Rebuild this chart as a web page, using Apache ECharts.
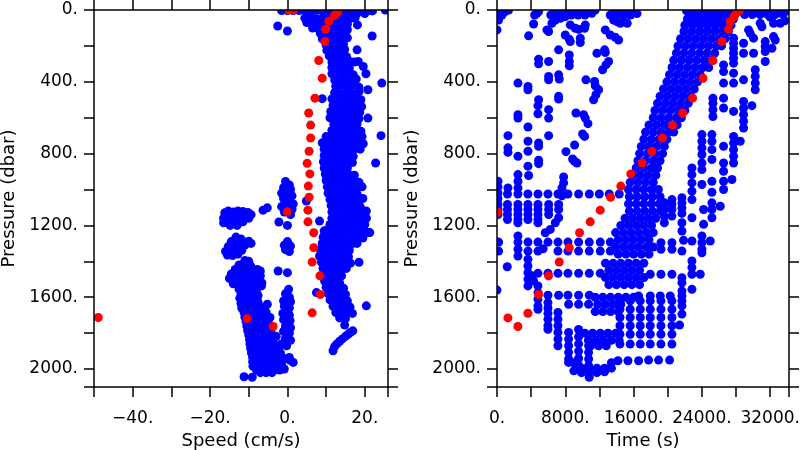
<!DOCTYPE html>
<html>
<head>
<meta charset="utf-8">
<script src="https://cdn.jsdelivr.net/npm/echarts@6/dist/echarts.min.js"></script>
<style>html,body{margin:0;padding:0;background:#fff}#c{width:800px;height:450px}</style>
</head>
<body>
<div id="c"></div>
<script>
// ---------- LEFT PANEL: Speed (cm/s) vs Pressure (dbar) ----------
const speedBand = [
[-1.5,3],[0,3],[1.5,3],[3,3],[4.5,3],[6,3],[7.5,3],[9,3],[10.5,3],[12,3],[13.5,3],[15,3],[16.5,3],[18,3],[19.5,3],[21,3],[22,5],
[9.5,20],[11,22],[14,20],[16,22],[18,18],[20,20],
[4.5,45],[6,40],[7.5,50],[9,45],[10.5,50],[13,45],[14.5,40],[16,50],[17.5,45],
[5,70],[6.5,75],[8,70],[9.5,80],[11,72],[12.5,75],[14,70],[15.5,80],
[6.5,100],[8,105],[11,100],[12.5,105],[14,100],[15.5,110],
[8.5,130],[10,135],[11.5,130],[13,135],[14.5,130],
[9,160],[10.8,165],[12.3,160],[13.8,165],[15.5,155],
[10,195],[11.5,190],[13,195],[14.5,190],
[10.2,225],[11.8,222],[13.3,225],[14.8,220],
[10.8,255],[12.3,260],[13.8,255],[15.3,260],
[11.5,290],[13,287],[14.5,290],[16,285],[17.2,290],
[11.5,320],[13,325],[14.5,320],[16,325],
[11.5,355],[13,350],[14.5,355],[16,350],[17,360],
[12.2,390],[13.7,395],[15.2,390],[16.7,395],[17.8,385],
[12.5,425],[14,420],[15.5,425],[17,420],[18.5,430],
[12.2,460],[13.7,465],[15.2,460],[16.7,465],[18.5,455],
[11.5,495],[13,500],[14.5,495],[16,500],[17.5,495],[19,500],
[11.8,530],[13.3,535],[14.8,530],[16.3,535],[17.8,530],[19.2,538],
[11.2,565],[12.7,570],[14.2,565],[15.7,570],[17.2,565],[18.7,570],
[11,600],[12.5,605],[14,600],[15.5,605],[17,600],[18.5,605],
[12,635],[13.5,640],[15,635],[16.5,640],[18,635],
[11.5,670],[13,675],[14.5,670],[16,675],[17.5,670],[19,675],
[10,705],[11.5,710],[13,705],[14.5,710],[16,705],[17.5,710],[19.3,705],
[9,740],[10.5,745],[12,740],[13.5,745],[15,740],[16.5,745],[18,740],[19.6,745],
[9.5,775],[11,780],[12.5,775],[14,780],[15.5,775],[17,780],[18.8,775],
[9.5,810],[11,815],[12.5,810],[14,815],[15.5,810],[17,815],
[9.3,845],[10.8,850],[12.3,845],[13.8,850],[15.3,845],[16.8,850],
[9.5,880],[11,885],[12.5,880],[14,885],[15.5,880],
[9.8,915],[11.3,920],[12.8,915],[14.3,920],[15.8,915],[17.3,920],
[10,950],[11.5,955],[13,950],[14.5,955],[16,950],[17.5,955],[18.5,960],
[10.3,985],[11.8,990],[13.3,985],[14.8,990],[16.3,985],[17.8,990],[19.3,985],
[10.5,1020],[12,1025],[13.5,1020],[15,1025],[16.5,1020],[18,1025],
[11,1055],[12.5,1060],[14,1055],[15.5,1060],[17,1055],[18.5,1060],[19.5,1050],
[11.3,1090],[12.8,1095],[14.3,1090],[15.8,1095],[17.3,1090],[18.8,1095],
[11.5,1125],[13,1130],[14.5,1125],[16,1130],[17.5,1125],[19,1130],[20.4,1120],
[11.5,1160],[13,1165],[14.5,1160],[16,1165],[17.5,1160],[19,1165],[20.4,1160],
[11,1195],[12.5,1200],[14,1195],[15.5,1200],[17,1195],[18.5,1200],[20,1195],
[9.5,1230],[11,1235],[12.5,1230],[14,1235],[15.5,1230],[17,1235],[18.5,1230],[20,1235],[21.3,1240],
[9.2,1265],[10.7,1270],[12.2,1265],[13.7,1270],[15.2,1265],[16.7,1270],[18.2,1265],[19.5,1270],
[9,1300],[10.5,1305],[12,1300],[13.5,1305],[15,1300],[16.5,1305],[18,1300],
[8.5,1335],[10,1340],[11.5,1335],[13,1340],[14.5,1335],[16,1340],
[8.3,1370],[9.8,1375],[11.3,1370],[12.8,1375],[14.3,1370],[15.8,1375],
[8.8,1405],[10.3,1410],[11.8,1405],[13.3,1410],[14.8,1405],[16.3,1410],[18.5,1405],
[9.2,1440],[10.7,1445],[12.2,1440],[13.7,1445],[15.2,1440],
[9.6,1475],[11.1,1480],[12.6,1475],[14,1480],
[9.6,1510],[11.1,1515],[12.6,1510],[13.5,1520],
[10,1545],[11.5,1550],[13,1545],[14.5,1550],
[10.5,1580],[12,1585],[13.5,1580],[15,1585],
[11,1615],[12.5,1620],[14,1615],[15.5,1620],
[11.8,1650],[13.3,1655],[14.8,1650],[16.2,1655],
[12.5,1685],[14,1690],[15.3,1685],[16.8,1690],
[13.5,1715],[15,1720]
];
const speedNeg = [
[-16.2,1130],[-16.5,1160],[-15.3,1120],[-14,1125],[-12.8,1120],[-11.5,1122],[-10.2,1128],[-9.4,1140],
[-15.4,1145],[-14,1150],[-12.5,1148],[-11,1150],[-10,1160],[-15.8,1175],[-14.5,1180],[-13,1175],
[-11.5,1180],[-14.8,1200],[-13,1200],[-16.5,1185],[-6.3,1115],[-5.2,1102],
[-13.3,1265],[-12,1275],[-14.5,1290],[-13,1295],[-11.5,1290],[-10,1288],[-9.4,1300],[-15.3,1318],
[-14,1320],[-12.5,1315],[-11,1310],[-16,1345],[-14.5,1345],[-13,1340],[-11.8,1338],[-15.5,1365],
[-14.2,1368],[-12.8,1360],
[-11,1395],[-10,1400],[-12.5,1420],[-11,1425],[-9.5,1425],[-13.5,1445],[-12,1450],[-10.5,1450],
[-9,1450],[-7.8,1445],[-14.5,1470],[-13,1475],[-11.5,1475],[-10,1478],[-8.5,1475],[-7,1480],
[-15,1495],[-13.5,1500],[-12,1505],[-10.5,1500],[-9,1505],[-7.5,1500],[-14,1525],[-12.5,1530],
[-11,1528],[-9.5,1532],[-8,1530],[-6.6,1520],[-12.5,1555],[-11,1558],[-9.5,1555],[-8,1560],
[-12,1580],[-10.5,1585],[-9,1582],[-7.6,1590],[-12.3,1605],[-10.8,1610],[-9.3,1605],[-7.8,1612],
[-12,1635],[-10.5,1635],[-9,1635],[-7.5,1635],[-5.2,1639],
[-11.8,1660],[-10.3,1660],[-8.8,1660],[-7.3,1660],[-6,1660],
[-11.2,1685],[-9.7,1685],[-8.2,1685],[-6.7,1685],[-5.5,1685],
[-11,1710],[-9.5,1710],[-8,1710],[-6.5,1710],[-4.5,1713],
[-10.7,1735],[-9.2,1735],[-7.7,1735],[-6.2,1735],[-5,1735],
[-10.5,1760],[-9,1760],[-7.5,1760],[-6,1760],[-4.5,1760],
[-10.3,1785],[-8.8,1785],[-7.3,1785],[-5.8,1785],[-4.3,1785],
[-10,1810],[-8.5,1810],[-7,1810],[-5.5,1810],[-4,1810],[-2.9,1818],
[-9.8,1835],[-8.3,1835],[-6.8,1835],[-5.3,1835],[-3.8,1835],
[-9.7,1860],[-8.2,1860],[-6.7,1860],[-5.2,1860],[-3.5,1860],
[-9.5,1885],[-8,1885],[-6.5,1885],[-5,1885],[-3.5,1885],[-2.3,1885],
[-9.3,1910],[-7.8,1910],[-6.3,1910],[-4.8,1910],[-3.3,1910],[-1.8,1910],
[-9,1935],[-7.5,1935],[-6,1935],[-4.5,1935],[-3,1935],[-1.3,1935],
[-9,1960],[-7.5,1960],[-6,1960],[-4.5,1960],[-3,1960],[-1.5,1960],
[-8.9,1985],[-7.4,1985],[-5.9,1985],[-4.4,1985],[-2.9,1985],[-1.4,1985],
[-8,2005],[-6.5,2005],[-5,2005],[-3.5,2005],[-2,2005],[-0.8,2000],
[-7,2020],[-5.5,2020],[-4,2020],
[-11.2,2043],[-9.1,2046]
];
const speedZero = [
[-0.5,955],[0.5,975],[-1,990],[0.8,1000],[-1.5,1020],[0,1025],[1.2,1035],[-1,1050],[0.5,1055],
[-0.5,1075],[1.5,1080],[-1.5,1095],[0,1100],[1.2,1110],[-0.8,1125],[0.8,1140],[-2.2,1181],[0,1200],
[4.9,1064],[8.3,1176],
[0,1290],[-0.8,1310],[0.8,1315],[-0.5,1335],[0.5,1345],
[-2.4,1454],[0,1463],[-7,1454],[-6.7,1537],
[0.3,1556],[-0.5,1580],[0.5,1600],[-1,1620],[0.8,1625],[-0.8,1650],[0.5,1660],[-1.2,1690],[0.5,1700],
[-1,1725],[0.7,1730],[-0.5,1760],[0.8,1770],[-1,1790],[0.5,1800],[-0.5,1830],[0.8,1840],[-0.2,1870],
[-1.6,1860],[0.5,1935],[0.6,1950],[1.5,1963]
];
const speedStray = [
[-2.5,89],[0,117],[21.9,145],[18.1,83],[18,222],[18.3,287],[19.6,315],[20.3,355],[24.4,407],[20.8,444],
[9,494],[20.8,602],[24.2,700],[22.8,852],[25.3,0],[20.4,1648],[14.8,1755],
[11.8,1898],[12.2,1875],[12.8,1860],[13.5,1845],[14.2,1832],[15,1818],[15.7,1806],[16.3,1796],[16.9,1787],
[7.5,1574],[10.5,1222],[21,1240]
];
const speedRed = [
[0.3,0],[1.5,0],[12.8,0],[13,12],[12.2,30],[10.7,63],[9.9,107],[9.7,176],[8.1,281],[9.0,380],[7.1,491],
[5.5,574],[6.0,641],[6.0,713],[5.6,787],[5.1,854],[5.8,913],[5.4,981],[5.6,1043],[0,1124],[5.3,1115],
[5.3,1180],[6.8,1241],[6.8,1324],[6.4,1404],[8.4,1481],[8.5,1585],[6.4,1687],[-3.7,1763],[-10.4,1719],
[-48.9,1713]
];

// ---------- RIGHT PANEL: Time (s) vs Pressure (dbar) ----------
const timeBand = [
[22200,5],[23100,5],[24000,5],[24900,5],[25800,5],[26700,5],[27600,5],[28500,5],[29400,5],[30300,5],[31200,5],[32100,5],[33000,5],[33900,5],
[22600,25],[23500,25],[24400,25],[25300,25],[26200,25],[27100,25],[29000,25],[29900,25],[30800,25],[31700,25],[32600,25],[33500,25],
[22300,50],[23200,50],[24100,50],[25000,50],[25900,50],[26800,50],[27700,50],
[22000,85],[22900,85],[23800,85],[24700,85],[25600,85],[26500,85],[27400,85],
[21900,120],[22800,120],[23700,120],[24600,120],[25500,120],[26400,120],[27100,120],
[21500,160],[22400,160],[23300,160],[24200,160],[25100,160],[26000,160],[26700,160],
[21200,200],[22100,200],[23000,200],[23900,200],[24800,200],[25700,200],[26300,200],
[21000,240],[21900,240],[22800,240],[23700,240],[24600,240],[25500,240],
[20700,280],[21600,280],[22500,280],[23400,280],[24300,280],[25200,280],
[20500,320],[21400,320],[22300,320],[23200,320],[24100,320],[24800,320],
[20200,360],[21100,360],[22000,360],[22900,360],[23800,360],
[19900,400],[20800,400],[21700,400],[22600,400],[23500,400],
[19500,440],[20400,440],[21300,440],[22200,440],[23100,440],
[19100,480],[20000,480],[20900,480],[21800,480],[22700,480],
[18800,520],[19700,520],[20600,520],[21500,520],[22400,520],
[18500,560],[19400,560],[20300,560],[21200,560],[22000,560],
[18300,600],[19200,600],[20100,600],[21000,600],[21600,600],
[17800,640],[18700,640],[19600,640],[20500,640],[21100,640],
[17400,680],[18300,680],[19200,680],[20100,680],[20700,680],
[17200,720],[18100,720],[19000,720],[19900,720],
[16900,760],[17800,760],[18700,760],[19600,760],
[16700,800],[17600,800],[18500,800],[19400,800],
[16500,840],[17400,840],[18300,840],[19100,840],
[16300,880],[17200,880],[18100,880],[18800,880],
[15900,920],[16800,920],[17700,920],[18600,920],
[15600,960],[16500,960],[17400,960],[18300,960],
[15400,1000],[16300,1000],[17200,1000],[18100,1000],[18900,1000],
[15500,1040],[16400,1040],[17300,1040],[18200,1040],[19100,1040],
[15400,1080],[16300,1080],[17200,1080],[18100,1080],[19000,1080],
[15500,1120],[16400,1120],[17300,1120],[18200,1120],[19100,1120],
[15000,1160],[15900,1160],[16800,1160],[17700,1160],[18600,1160],
[14500,1200],[15400,1200],[16300,1200],[17200,1200],[18100,1200],
[13900,1240],[14800,1240],[15700,1240],[16600,1240],[17500,1240],[18300,1240],
[14200,1280],[15100,1280],[16000,1280],[16900,1280],[17800,1280],
[13900,1320],[14800,1320],[15700,1320],[16600,1320],[17500,1320],[18300,1320],
[14200,1360],[15100,1360],[16000,1360],[16900,1360],[17800,1360],
[12700,1410],[13600,1410],[14500,1410],[15400,1410],[16300,1410],[17200,1410],
[13100,1450],[14000,1450],[14900,1450],[15800,1450],[16700,1450],
[12700,1490],[13600,1490],[14500,1490],[15400,1490],[16300,1490],[17200,1490],
[13100,1530],[14000,1530],[14900,1530],[15800,1530],[16700,1530],
[11500,1600],[12400,1600],[13300,1600],[14200,1600],[15100,1600],[16000,1600],
[11800,1640],[12700,1640],[13600,1640],[14500,1640],
[11500,1680],[12400,1680],[13300,1680],[14200,1680],
[10300,1800],[11200,1800],[12100,1800],[13000,1800],[13900,1800],
[10700,1840],[11600,1840],[12500,1840],[13400,1840],[14300,1840],
[11000,1870],[11900,1870],[12800,1870]
];
const timeUpper = [
[0,111],[113,20],[191,56],[582,28],[972,9],[1362,0],[400,0],
[4407,28],[4680,18],[4875,9],[4290,78],[3704,144],
[6300,28],[6700,9],[7100,28],[7500,9],[7900,28],[8300,9],[8700,28],[9100,9],[9500,28],[9900,9],[10300,28],[10700,9],[11100,18],[11500,0],
[5851,111],[6046,120],[6436,74],[6826,56],[7412,46],[7997,37],
[7997,139],[8466,163],[8583,176],[8583,83],[9168,102],[9559,107],[9754,157],[9754,181],
[10339,83],[10261,102],[7217,222],[8466,250],[8466,287],[8466,311],[6046,287],[4875,274],[4875,300],
[11705,241],[12603,222],[12681,237],[13071,287],[12759,306],[12369,333],
[13266,28],[13657,9],[14050,28],[14450,9],[14850,28],[15250,9],[15650,28],[15998,9],[16400,20],
[13657,56],[14050,65],[14450,74],[14850,65],[15250,74],
[12681,111],[13266,139],[13852,152],[14242,167],
[6046,370],[6046,389],[7217,361],[7295,385],[2455,407],[3626,426],[3626,444],
[10417,389],[11432,398],[11510,422],[11900,444],[11588,472],[11315,500],
[7217,481],[7217,496],[4875,500],[4797,533],[4797,578],[6046,555],[6046,602],
[2455,583],[2455,602],[3626,652],[9246,574],[10144,583],[10339,602],[10651,633],
[1284,700],[3626,731],[3626,787],[4875,741],[4875,759],[6046,700],[10027,691],[10261,704],
[9090,752],[1284,768],[1284,793],[2455,815],[3626,870],[4875,837],[4875,856],[8075,789],
[8856,830],[9090,843],[9363,852],[2455,917],[2455,954],[3704,922],
[7802,930],[7802,963],[7607,991],[113,954],[113,985],[113,1019],[113,1050],[1284,991],[2455,991]
];
const timeLower = [
[1230,1025],[2450,1025],[3620,1025],[4800,1025],[5970,1025],[7140,1025],[7600,1035],[8310,1025],[9560,1025],
[10810,1025],[11980,1025],[13150,1025],[14320,1025],
[113,1083],[113,1111],[113,1139],
[1230,1083],[1230,1111],[1230,1139],[1230,1167],
[2450,1083],[2450,1111],[2450,1139],[2450,1167],[2450,1185],
[3620,1083],[3620,1111],[3620,1139],[3620,1167],
[4800,1083],[4800,1111],[4800,1139],[4800,1167],[4800,1185],
[6050,1083],[6050,1111],[6050,1139],[7220,1083],[7220,1111],
[5656,1241],[6241,1222],[6826,1185],[7217,1157],
[191,1293],[2455,1293],[3626,1293],[4797,1293],[5968,1293],[7139,1293],[8310,1293],[9559,1293],[10807,1293],[12095,1293],[13266,1293],
[191,1343],[3626,1343],[4797,1343],[5400,1330],[7139,1343],[8310,1343],[9559,1343],[10807,1343],[12095,1343],[13266,1343],
[2455,1259],[2455,1333],[2455,1370],[1200,1430],[0,1560],
[3626,1389],[3626,1426],[3626,1463],[3626,1500],[3626,1537],[4090,1481],[4290,1509],
[4797,1467],[5968,1467],[7139,1467],[8310,1467],[9559,1467],[10807,1467],[12095,1467],
[4797,1537],[4797,1574],[4797,1611],[4797,1648],[4797,1667],
[5968,1589],[7217,1589],[8310,1589],[9559,1589],[10807,1589],
[8390,1639],[9560,1639],[10730,1639],
[5968,1630],[5968,1660],[5968,1690],[5968,1722],[5968,1759],[5968,1778],
[7139,1685],[7139,1722],[7139,1759],[7139,1796],[7139,1833],[7139,1870],
[8388,1796],[8388,1833],[8388,1870],[8388,1907],[8388,1944],[8388,1963],
[9559,1780],[9559,1820],[9559,1860],[9559,1900],[9559,1940],[9559,1980],
[10729,1870],[10729,1907],[10729,1944],[10729,1981],[10729,2020],[10800,2046],
[9000,1965],[9900,1995],[10800,1995],[11700,1995],[12600,1995],[13400,1995],
[9000,2010],[9900,2020],[11700,2020],[12600,2015],[13400,1965],
[14164,1954],[15335,1954],[16584,1954],[17756,1950],[18927,1950],[20215,1950]
];
const timeRight = [
[27708,157],[27708,185],[27708,213],[27708,241],[27708,269],[27708,296],
[29465,111],[29660,130],[30050,157],[30831,74],[31026,93],[32392,148],[32587,167],
[28879,185],[28879,241],[30050,241],[31416,176],[31416,204],[31416,231],[31416,287],[32197,213],
[26538,306],[26538,343],[26538,407],[27708,352],[27708,407],[28879,389],
[30245,333],[30245,370],[30245,407],[30245,444],
[25289,491],[25289,520],[25289,555],[25289,593],[26538,491],[26538,546],[27708,565],
[28879,509],[28879,546],[28879,583],[28879,620],[28879,657],[29855,533],
[24000,694],[24000,731],[24000,768],[24000,805],[24000,852],
[25171,694],[25171,731],[25171,778],[25171,833],[26538,759],[26538,852],
[27708,704],[27708,741],[27708,778],[27708,815],[27708,852],[28489,731],
[22830,880],[22830,917],[22830,963],[24000,889],[24000,972],[25171,954],[25171,1015],
[26538,898],[26538,954],[27513,944],[22830,1009],[21659,1046],
[32000,40],[33173,74],[32392,74],[33700,60],
[26538,1000],[21659,1074],[21659,1102],[21659,1133],
[20488,1056],[20488,1083],[20488,1111],[20488,1148],
[19600,1074],[19600,1111],[19600,1148],[19600,1185],
[22830,1056],[22830,1157],[24196,1111],[24196,1194],[25171,1074],[25171,1111],[25171,1157],[26147,1093],
[21659,1185],[21659,1231],[24000,1259],[24000,1296],[24000,1333],[24000,1352],[24976,1287],[22830,1287],[21659,1343],
[19200,1296],[19200,1333],[20488,1296],[20488,1333],[21850,1283],
[17950,1472],[19200,1472],[20488,1472],[21659,1491],[21659,1519],
[22830,1398],[22830,1435],[22830,1472],[23805,1472],[22830,1556],
[21659,1565],[21659,1593],[21659,1620],[21659,1648],[21659,1694],[21385,1755],
[16580,1593],[17950,1593],[19120,1593],[20290,1593]
];
const timeGrid = [
[14400,1620],[15600,1620],[16780,1620],[17950,1620],[19200,1620],[20488,1620],
[14400,1667],[15600,1667],[16780,1667],[17950,1667],[19200,1667],[20488,1667],
[14400,1713],[15600,1713],[16780,1713],[17950,1713],[19200,1713],[20488,1713],
[14400,1759],[15600,1759],[16780,1759],[17950,1759],[19200,1759],[20488,1759],
[14400,1806],[15600,1806],[16780,1806],[17950,1806],[19200,1806],[20488,1806],
[14400,1861],[15600,1861],[16780,1861],[17950,1861],[19200,1861],[20488,1861]
];
const timeRed = [
[28400,0],[28100,12],[27800,35],[27310,65],[27120,107],[26340,176],[25290,281],[24120,380],[22910,491],
[21740,574],[20570,641],[19360,713],[18150,787],[16980,852],[15670,913],[14500,981],[13300,1043],
[12090,1115],[10920,1180],[9670,1241],[8460,1324],[7290,1404],[6040,1481],[4870,1585],[3620,1689],
[1280,1715],[2450,1763],[110,1126]
];

// tick label sets
const speedLabels = [-40, -20, 0, 20];
const timeLabels = [0, 8000, 16000, 24000, 32000];
const pressureLabels = [0, 400, 800, 1200, 1600, 2000];

function fmt(v){ return (v < 0 ? '\u2212' + Math.abs(v) : String(v)) + '.'; }

const TXT = '#000';
const FONT = 'DejaVu Sans';
const lineStyle = {color:'#000', width:1.5};

function xAx(grid, min, max, interval, labels, name, top){
  return {
    gridIndex: grid, type:'value', min:min, max:max, interval:interval,
    position: top ? 'top' : 'bottom', zlevel: 1, z: 10,
    axisLine:{show:true, onZero:false, lineStyle:lineStyle},
    axisTick:{show:true, inside:false, length:10, lineStyle:lineStyle},
    axisLabel:{show:!top, margin:23, fontSize:17, color:TXT, fontFamily:FONT,
      formatter: v => labels.includes(v) ? fmt(v) : ''},
    splitLine:{show:false},
    name: top ? '' : name, nameLocation:'middle', nameGap:42,
    nameTextStyle:{fontSize:18, color:TXT, fontFamily:FONT}
  };
}
function yAx(grid, right){
  return {
    gridIndex: grid, type:'value', inverse:true, min:0, max:2100, interval:200,
    position: right ? 'right' : 'left', zlevel: 1, z: 10,
    axisLine:{show:true, onZero:false, lineStyle:lineStyle},
    axisTick:{show:true, inside:false, length:10, lineStyle:lineStyle},
    axisLabel:{show:!right, margin:16, fontSize:17, color:TXT, fontFamily:FONT,
      formatter: v => pressureLabels.includes(v) ? fmt(v) : ''},
    splitLine:{show:false},
    name: right ? '' : 'Pressure (dbar)', nameLocation:'middle', nameGap:76, nameRotate:90,
    nameTextStyle:{fontSize:18, color:TXT, fontFamily:FONT}
  };
}

const SZ = 9;
const mask = {fill:'#ffffff', opacity:1};
const option = {
  animation:false,
  backgroundColor:'#fff',
  grid:[
    {left:94, top:10, width:294, height:377, containLabel:false, outerBoundsMode:'none'},
    {left:497, top:10, width:292, height:377, containLabel:false, outerBoundsMode:'none'}
  ],
  xAxis:[
    xAx(0, -50, 26, 10, speedLabels, 'Speed (cm/s)', false),
    xAx(0, -50, 26, 10, speedLabels, '', true),
    xAx(1, 0, 34200, 4000, timeLabels, 'Time (s)', false),
    xAx(1, 0, 34200, 4000, timeLabels, '', true)
  ],
  yAxis:[ yAx(0,false), yAx(0,true), yAx(1,false), yAx(1,true) ],
  graphic:{
    elements:[
      {type:'rect', z:50, shape:{x:0,y:0,width:800,height:10}, style:mask, silent:true},
      {type:'rect', z:50, shape:{x:0,y:387,width:800,height:63}, style:mask, silent:true},
      {type:'rect', z:50, shape:{x:0,y:0,width:94,height:450}, style:mask, silent:true},
      {type:'rect', z:50, shape:{x:388,y:0,width:109,height:450}, style:mask, silent:true},
      {type:'rect', z:50, shape:{x:789,y:0,width:11,height:450}, style:mask, silent:true}
    ]
  },
  series:[
    {type:'scatter', xAxisIndex:0, yAxisIndex:0, symbolSize:SZ, z:2,
     itemStyle:{color:'#0000ff', opacity:1}, data: speedBand.concat(speedNeg, speedZero, speedStray)},
    {type:'scatter', xAxisIndex:0, yAxisIndex:0, symbolSize:SZ, z:3,
     itemStyle:{color:'#ff0000', opacity:1}, data: speedRed},
    {type:'scatter', xAxisIndex:2, yAxisIndex:2, symbolSize:SZ, z:2,
     itemStyle:{color:'#0000ff', opacity:1}, data: timeBand.concat(timeUpper, timeLower, timeRight, timeGrid)},
    {type:'scatter', xAxisIndex:2, yAxisIndex:2, symbolSize:SZ, z:3,
     itemStyle:{color:'#ff0000', opacity:1}, data: timeRed}
  ]
};
const chart = echarts.init(document.getElementById('c'), null, {renderer:'canvas'});
chart.setOption(option);
</script>
</body>
</html>
